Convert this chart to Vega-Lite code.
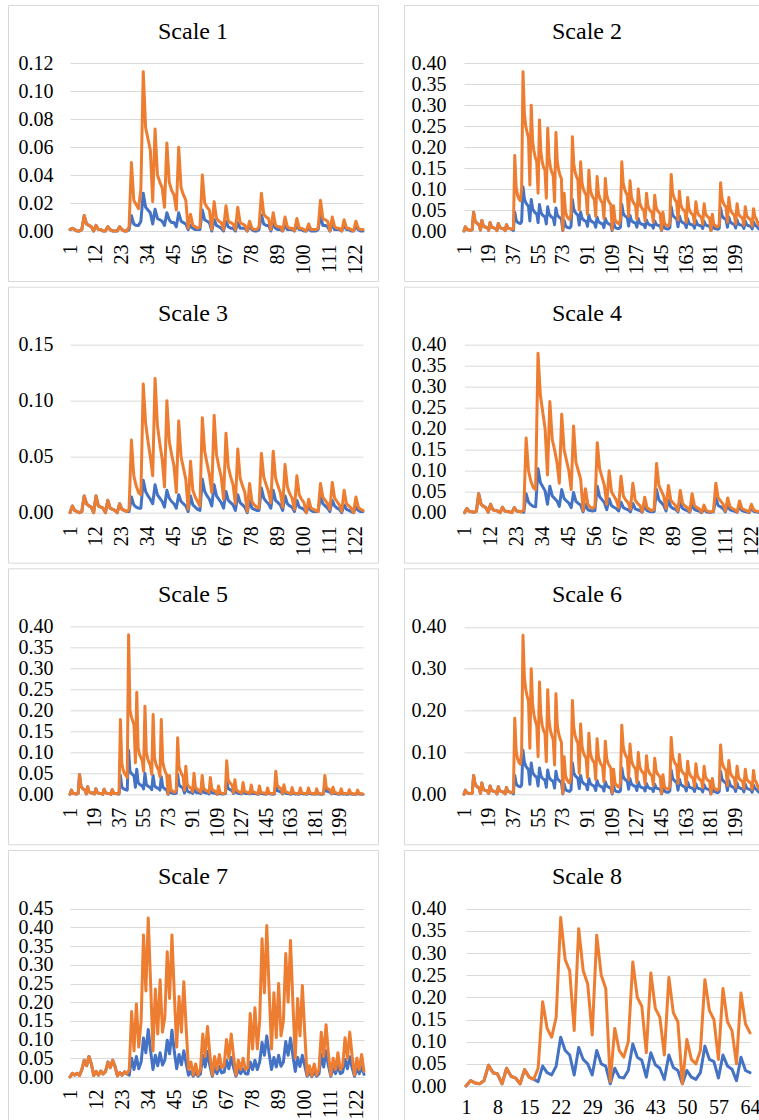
{
"$schema":"https://vega.github.io/schema/vega-lite/v6.json",
"background":"white",
"padding":{"left":7,"top":4,"right":0,"bottom":0},
"config":{
"font":"Liberation Serif",
"style":{"guide-label":{"font":"Liberation Serif","fontSize":20,"fill":"#000000"},"group-title":{"font":"Liberation Serif","fontSize":24,"fontWeight":"normal","fill":"#000000"}},
"view":{"stroke":"#d9d9d9","strokeWidth":1},
"title":{"font":"Liberation Serif","fontSize":24,"fontWeight":"normal","color":"#000000","anchor":"middle","offset":-39,"baseline":"alphabetic"},
"axis":{"labelFont":"Liberation Serif","labelFontSize":20,"labelColor":"#000000","ticks":false,"tickSize":0,"domain":false,"labelOverlap":false,"labelFlush":false,"labelBound":false},
"axisX":{"grid":false,"labelAngle":270,"labelPadding":13},
"axisY":{"grid":true,"gridColor":"#d9d9d9","gridWidth":1,"labelPadding":0},
"line":{"strokeWidth":3,"strokeJoin":"round","strokeCap":"round"}
},
"datasets":{
"s1":[{"x":1,"o":0.001,"b":0.001},{"x":2,"o":0.002,"b":0.002},{"x":3,"o":0.001,"b":0.001},{"x":4,"o":0,"b":0},{"x":5,"o":0,"b":0},{"x":6,"o":0.001,"b":0.001},{"x":7,"o":0.011,"b":0.011},{"x":8,"o":0.005,"b":0.005},{"x":9,"o":0.004,"b":0.004},{"x":10,"o":0.003,"b":0.003},{"x":11,"o":0,"b":0},{"x":12,"o":0.004,"b":0.004},{"x":13,"o":0.001,"b":0.001},{"x":14,"o":0.001,"b":0.001},{"x":15,"o":0,"b":0},{"x":16,"o":0,"b":0},{"x":17,"o":0.003,"b":0.003},{"x":18,"o":0.001,"b":0.001},{"x":19,"o":0,"b":0},{"x":20,"o":0,"b":0},{"x":21,"o":0,"b":0},{"x":22,"o":0.003,"b":0.003},{"x":23,"o":0.001,"b":0.001},{"x":24,"o":0,"b":0},{"x":25,"o":0,"b":0},
{"x":26,"o":0.003,"b":0.001},{"x":27,"o":0.049,"b":0.011},{"x":28,"o":0.022,"b":0.005},{"x":29,"o":0.019,"b":0.004},{"x":30,"o":0.016,"b":0.004},{"x":31,"o":0.03,"b":0.007},{"x":32,"o":0.114,"b":0.027},{"x":33,"o":0.074,"b":0.017},{"x":34,"o":0.066,"b":0.015},{"x":35,"o":0.058,"b":0.013},{"x":36,"o":0.021,"b":0.005},{"x":37,"o":0.073,"b":0.0155},{"x":38,"o":0.04,"b":0.009},{"x":39,"o":0.035,"b":0.008},{"x":40,"o":0.031,"b":0.007},{"x":41,"o":0.017,"b":0.004},{"x":42,"o":0.063,"b":0.013},{"x":43,"o":0.035,"b":0.008},{"x":44,"o":0.029,"b":0.006},{"x":45,"o":0.026,"b":0.006},{"x":46,"o":0.015,"b":0.003},{"x":47,"o":0.06,"b":0.013},{"x":48,"o":0.031,"b":0.007},{"x":49,"o":0.026,"b":0.006},{"x":50,"o":0.022,"b":0.005},
{"x":51,"o":0.002,"b":0.001},{"x":52,"o":0.012,"b":0.004},{"x":53,"o":0.004,"b":0.002},{"x":54,"o":0.003,"b":0.001},{"x":55,"o":0.002,"b":0.001},{"x":56,"o":0.003,"b":0.001},{"x":57,"o":0.04,"b":0.015},{"x":58,"o":0.02,"b":0.008},{"x":59,"o":0.017,"b":0.007},{"x":60,"o":0.015,"b":0.006},{"x":61,"o":0.001,"b":0},{"x":62,"o":0.021,"b":0.008},{"x":63,"o":0.009,"b":0.004},{"x":64,"o":0.007,"b":0.003},{"x":65,"o":0.006,"b":0.002},{"x":66,"o":0.001,"b":0},{"x":67,"o":0.018,"b":0.007},{"x":68,"o":0.007,"b":0.003},{"x":69,"o":0.006,"b":0.002},{"x":70,"o":0.005,"b":0.002},{"x":71,"o":0.001,"b":0},{"x":72,"o":0.017,"b":0.006},{"x":73,"o":0.006,"b":0.002},{"x":74,"o":0.005,"b":0.002},{"x":75,"o":0.004,"b":0.002},
{"x":76,"o":0,"b":0},{"x":77,"o":0.007,"b":0.003},{"x":78,"o":0.002,"b":0.001},{"x":79,"o":0.001,"b":0},{"x":80,"o":0.001,"b":0},{"x":81,"o":0.003,"b":0.001},{"x":82,"o":0.027,"b":0.0115},{"x":83,"o":0.012,"b":0.005},{"x":84,"o":0.01,"b":0.004},{"x":85,"o":0.009,"b":0.004},{"x":86,"o":0.001,"b":0},{"x":87,"o":0.013,"b":0.005},{"x":88,"o":0.004,"b":0.002},{"x":89,"o":0.003,"b":0.001},{"x":90,"o":0.003,"b":0.001},{"x":91,"o":0,"b":0},{"x":92,"o":0.01,"b":0.004},{"x":93,"o":0.003,"b":0.001},{"x":94,"o":0.002,"b":0.001},{"x":95,"o":0.002,"b":0.001},{"x":96,"o":0,"b":0},{"x":97,"o":0.009,"b":0.004},{"x":98,"o":0.002,"b":0.001},{"x":99,"o":0.002,"b":0.001},{"x":100,"o":0.001,"b":0},
{"x":101,"o":0,"b":0},{"x":102,"o":0.005,"b":0.002},{"x":103,"o":0.001,"b":0},{"x":104,"o":0.001,"b":0},{"x":105,"o":0.001,"b":0},{"x":106,"o":0.002,"b":0.001},{"x":107,"o":0.022,"b":0.011},{"x":108,"o":0.009,"b":0.004},{"x":109,"o":0.008,"b":0.004},{"x":110,"o":0.007,"b":0.003},{"x":111,"o":0,"b":0},{"x":112,"o":0.01,"b":0.005},{"x":113,"o":0.003,"b":0.001},{"x":114,"o":0.002,"b":0.001},{"x":115,"o":0.002,"b":0.001},{"x":116,"o":0,"b":0},{"x":117,"o":0.008,"b":0.004},{"x":118,"o":0.002,"b":0.001},{"x":119,"o":0.002,"b":0.001},{"x":120,"o":0.001,"b":0},{"x":121,"o":0,"b":0},{"x":122,"o":0.007,"b":0.003},{"x":123,"o":0.002,"b":0.001},{"x":124,"o":0.001,"b":0},{"x":125,"o":0.001,"b":0}],
"s2":[{"x":1,"o":0,"b":0},{"x":2,"o":0.01,"b":0.01},{"x":3,"o":0.004,"b":0.004},{"x":4,"o":0.003,"b":0.003},{"x":5,"o":0.002,"b":0.002},{"x":6,"o":0.002,"b":0.002},{"x":7,"o":0.003,"b":0.003},{"x":8,"o":0.045,"b":0.045},{"x":9,"o":0.025,"b":0.025},{"x":10,"o":0.02,"b":0.02},{"x":11,"o":0.017,"b":0.017},{"x":12,"o":0.015,"b":0.015},{"x":13,"o":0.002,"b":0.002},{"x":14,"o":0.025,"b":0.025},{"x":15,"o":0.013,"b":0.013},{"x":16,"o":0.01,"b":0.01},{"x":17,"o":0.009,"b":0.009},{"x":18,"o":0.008,"b":0.008},{"x":19,"o":0.002,"b":0.002},{"x":20,"o":0.02,"b":0.02},{"x":21,"o":0.01,"b":0.01},{"x":22,"o":0.008,"b":0.008},{"x":23,"o":0.007,"b":0.007},{"x":24,"o":0.006,"b":0.006},{"x":25,"o":0.001,"b":0.001},{"x":26,"o":0.018,"b":0.018},{"x":27,"o":0.009,"b":0.009},{"x":28,"o":0.007,"b":0.007},{"x":29,"o":0.006,"b":0.006},{"x":30,"o":0.005,"b":0.005},{"x":31,"o":0.001,"b":0.001},{"x":32,"o":0.015,"b":0.015},{"x":33,"o":0.007,"b":0.007},{"x":34,"o":0.006,"b":0.006},{"x":35,"o":0.005,"b":0.005},{"x":36,"o":0.004,"b":0.004},
{"x":37,"o":0.005,"b":0.001},{"x":38,"o":0.18,"b":0.045},{"x":39,"o":0.105,"b":0.026},{"x":40,"o":0.085,"b":0.021},{"x":41,"o":0.077,"b":0.019},{"x":42,"o":0.072,"b":0.018},{"x":43,"o":0.1,"b":0.022},{"x":44,"o":0.38,"b":0.105},{"x":45,"o":0.28,"b":0.077},{"x":46,"o":0.25,"b":0.068},{"x":47,"o":0.235,"b":0.063},{"x":48,"o":0.222,"b":0.059},{"x":49,"o":0.11,"b":0.024},{"x":50,"o":0.3,"b":0.075},{"x":51,"o":0.215,"b":0.053},{"x":52,"o":0.19,"b":0.047},{"x":53,"o":0.175,"b":0.043},{"x":54,"o":0.165,"b":0.041},{"x":55,"o":0.09,"b":0.02},{"x":56,"o":0.265,"b":0.063},{"x":57,"o":0.19,"b":0.045},{"x":58,"o":0.165,"b":0.039},{"x":59,"o":0.152,"b":0.036},{"x":60,"o":0.145,"b":0.034},{"x":61,"o":0.078,"b":0.017},{"x":62,"o":0.245,"b":0.058},{"x":63,"o":0.175,"b":0.041},{"x":64,"o":0.152,"b":0.036},{"x":65,"o":0.14,"b":0.033},{"x":66,"o":0.132,"b":0.031},{"x":67,"o":0.07,"b":0.015},{"x":68,"o":0.235,"b":0.055},{"x":69,"o":0.165,"b":0.038},{"x":70,"o":0.145,"b":0.034},{"x":71,"o":0.133,"b":0.031},{"x":72,"o":0.125,"b":0.029},
{"x":73,"o":0.002,"b":0.001},{"x":74,"o":0.09,"b":0.025},{"x":75,"o":0.045,"b":0.012},{"x":76,"o":0.035,"b":0.009},{"x":77,"o":0.03,"b":0.008},{"x":78,"o":0.027,"b":0.007},{"x":79,"o":0.04,"b":0.011},{"x":80,"o":0.225,"b":0.075},{"x":81,"o":0.16,"b":0.052},{"x":82,"o":0.14,"b":0.045},{"x":83,"o":0.13,"b":0.041},{"x":84,"o":0.122,"b":0.038},{"x":85,"o":0.05,"b":0.014},{"x":86,"o":0.165,"b":0.045},{"x":87,"o":0.115,"b":0.031},{"x":88,"o":0.1,"b":0.027},{"x":89,"o":0.092,"b":0.024},{"x":90,"o":0.086,"b":0.023},{"x":91,"o":0.04,"b":0.011},{"x":92,"o":0.145,"b":0.038},{"x":93,"o":0.1,"b":0.026},{"x":94,"o":0.087,"b":0.023},{"x":95,"o":0.08,"b":0.021},{"x":96,"o":0.075,"b":0.019},{"x":97,"o":0.035,"b":0.009},{"x":98,"o":0.13,"b":0.033},{"x":99,"o":0.09,"b":0.023},{"x":100,"o":0.078,"b":0.02},{"x":101,"o":0.071,"b":0.018},{"x":102,"o":0.067,"b":0.017},{"x":103,"o":0.03,"b":0.008},{"x":104,"o":0.125,"b":0.03},{"x":105,"o":0.086,"b":0.021},{"x":106,"o":0.074,"b":0.018},{"x":107,"o":0.068,"b":0.016},{"x":108,"o":0.063,"b":0.015},
{"x":109,"o":0.003,"b":0.001},{"x":110,"o":0.06,"b":0.02},{"x":111,"o":0.028,"b":0.009},{"x":112,"o":0.022,"b":0.007},{"x":113,"o":0.019,"b":0.006},{"x":114,"o":0.017,"b":0.006},{"x":115,"o":0.028,"b":0.009},{"x":116,"o":0.165,"b":0.063},{"x":117,"o":0.115,"b":0.043},{"x":118,"o":0.1,"b":0.037},{"x":119,"o":0.092,"b":0.034},{"x":120,"o":0.086,"b":0.032},{"x":121,"o":0.035,"b":0.012},{"x":122,"o":0.12,"b":0.037},{"x":123,"o":0.082,"b":0.025},{"x":124,"o":0.071,"b":0.022},{"x":125,"o":0.065,"b":0.02},{"x":126,"o":0.061,"b":0.019},{"x":127,"o":0.028,"b":0.009},{"x":128,"o":0.1,"b":0.03},{"x":129,"o":0.068,"b":0.02},{"x":130,"o":0.058,"b":0.017},{"x":131,"o":0.053,"b":0.016},{"x":132,"o":0.05,"b":0.015},{"x":133,"o":0.024,"b":0.008},{"x":134,"o":0.09,"b":0.026},{"x":135,"o":0.061,"b":0.018},{"x":136,"o":0.052,"b":0.015},{"x":137,"o":0.047,"b":0.014},{"x":138,"o":0.044,"b":0.013},{"x":139,"o":0.021,"b":0.007},{"x":140,"o":0.085,"b":0.024},{"x":141,"o":0.057,"b":0.016},{"x":142,"o":0.049,"b":0.014},{"x":143,"o":0.045,"b":0.013},{"x":144,"o":0.041,"b":0.012},
{"x":145,"o":0.002,"b":0.001},{"x":146,"o":0.045,"b":0.017},{"x":147,"o":0.02,"b":0.008},{"x":148,"o":0.015,"b":0.006},{"x":149,"o":0.013,"b":0.005},{"x":150,"o":0.012,"b":0.005},{"x":151,"o":0.02,"b":0.008},{"x":152,"o":0.135,"b":0.058},{"x":153,"o":0.092,"b":0.039},{"x":154,"o":0.08,"b":0.034},{"x":155,"o":0.073,"b":0.031},{"x":156,"o":0.069,"b":0.029},{"x":157,"o":0.026,"b":0.01},{"x":158,"o":0.095,"b":0.036},{"x":159,"o":0.063,"b":0.024},{"x":160,"o":0.054,"b":0.021},{"x":161,"o":0.05,"b":0.019},{"x":162,"o":0.047,"b":0.018},{"x":163,"o":0.021,"b":0.008},{"x":164,"o":0.08,"b":0.029},{"x":165,"o":0.053,"b":0.019},{"x":166,"o":0.045,"b":0.016},{"x":167,"o":0.041,"b":0.015},{"x":168,"o":0.038,"b":0.014},{"x":169,"o":0.018,"b":0.007},{"x":170,"o":0.07,"b":0.025},{"x":171,"o":0.046,"b":0.016},{"x":172,"o":0.039,"b":0.014},{"x":173,"o":0.035,"b":0.013},{"x":174,"o":0.033,"b":0.012},{"x":175,"o":0.016,"b":0.006},{"x":176,"o":0.065,"b":0.023},{"x":177,"o":0.042,"b":0.015},{"x":178,"o":0.036,"b":0.013},{"x":179,"o":0.033,"b":0.012},{"x":180,"o":0.031,"b":0.011},
{"x":181,"o":0.001,"b":0.001},{"x":182,"o":0.04,"b":0.017},{"x":183,"o":0.017,"b":0.007},{"x":184,"o":0.013,"b":0.006},{"x":185,"o":0.011,"b":0.005},{"x":186,"o":0.01,"b":0.004},{"x":187,"o":0.016,"b":0.007},{"x":188,"o":0.115,"b":0.055},{"x":189,"o":0.078,"b":0.037},{"x":190,"o":0.067,"b":0.032},{"x":191,"o":0.061,"b":0.029},{"x":192,"o":0.057,"b":0.027},{"x":193,"o":0.021,"b":0.009},{"x":194,"o":0.08,"b":0.033},{"x":195,"o":0.053,"b":0.022},{"x":196,"o":0.045,"b":0.019},{"x":197,"o":0.041,"b":0.017},{"x":198,"o":0.038,"b":0.016},{"x":199,"o":0.017,"b":0.007},{"x":200,"o":0.065,"b":0.027},{"x":201,"o":0.042,"b":0.017},{"x":202,"o":0.036,"b":0.015},{"x":203,"o":0.033,"b":0.014},{"x":204,"o":0.031,"b":0.013},{"x":205,"o":0.014,"b":0.006},{"x":206,"o":0.058,"b":0.024},{"x":207,"o":0.037,"b":0.015},{"x":208,"o":0.032,"b":0.013},{"x":209,"o":0.029,"b":0.012},{"x":210,"o":0.027,"b":0.011},{"x":211,"o":0.012,"b":0.005},{"x":212,"o":0.053,"b":0.022},{"x":213,"o":0.034,"b":0.014},{"x":214,"o":0.029,"b":0.012},{"x":215,"o":0.02,"b":0.008},{"x":216,"o":0.013,"b":0.005}],
"s3":[{"x":1,"o":0,"b":0},{"x":2,"o":0.006,"b":0.006},{"x":3,"o":0.002,"b":0.002},{"x":4,"o":0.001,"b":0.001},{"x":5,"o":0,"b":0},{"x":6,"o":0.001,"b":0.001},{"x":7,"o":0.015,"b":0.015},{"x":8,"o":0.008,"b":0.008},{"x":9,"o":0.006,"b":0.006},{"x":10,"o":0.005,"b":0.005},{"x":11,"o":0,"b":0},{"x":12,"o":0.015,"b":0.015},{"x":13,"o":0.006,"b":0.006},{"x":14,"o":0.005,"b":0.005},{"x":15,"o":0.004,"b":0.004},{"x":16,"o":0,"b":0},{"x":17,"o":0.011,"b":0.011},{"x":18,"o":0.004,"b":0.004},{"x":19,"o":0.003,"b":0.003},{"x":20,"o":0.002,"b":0.002},{"x":21,"o":0,"b":0},{"x":22,"o":0.008,"b":0.008},{"x":23,"o":0.003,"b":0.003},{"x":24,"o":0.002,"b":0.002},{"x":25,"o":0.001,"b":0.001},
{"x":26,"o":0.003,"b":0.001},{"x":27,"o":0.065,"b":0.014},{"x":28,"o":0.033,"b":0.007},{"x":29,"o":0.024,"b":0.005},{"x":30,"o":0.018,"b":0.004},{"x":31,"o":0.016,"b":0.004},{"x":32,"o":0.115,"b":0.029},{"x":33,"o":0.08,"b":0.019},{"x":34,"o":0.064,"b":0.015},{"x":35,"o":0.05,"b":0.012},{"x":36,"o":0.033,"b":0.008},{"x":37,"o":0.12,"b":0.025},{"x":38,"o":0.078,"b":0.016},{"x":39,"o":0.062,"b":0.013},{"x":40,"o":0.048,"b":0.01},{"x":41,"o":0.023,"b":0.005},{"x":42,"o":0.1,"b":0.02},{"x":43,"o":0.064,"b":0.013},{"x":44,"o":0.052,"b":0.01},{"x":45,"o":0.042,"b":0.008},{"x":46,"o":0.018,"b":0.004},{"x":47,"o":0.082,"b":0.016},{"x":48,"o":0.05,"b":0.01},{"x":49,"o":0.04,"b":0.008},{"x":50,"o":0.03,"b":0.006},
{"x":51,"o":0.003,"b":0.001},{"x":52,"o":0.046,"b":0.015},{"x":53,"o":0.02,"b":0.007},{"x":54,"o":0.014,"b":0.005},{"x":55,"o":0.01,"b":0.003},{"x":56,"o":0.006,"b":0.002},{"x":57,"o":0.085,"b":0.03},{"x":58,"o":0.055,"b":0.019},{"x":59,"o":0.044,"b":0.015},{"x":60,"o":0.034,"b":0.012},{"x":61,"o":0.018,"b":0.006},{"x":62,"o":0.087,"b":0.025},{"x":63,"o":0.052,"b":0.015},{"x":64,"o":0.041,"b":0.012},{"x":65,"o":0.032,"b":0.009},{"x":66,"o":0.012,"b":0.004},{"x":67,"o":0.071,"b":0.019},{"x":68,"o":0.041,"b":0.011},{"x":69,"o":0.032,"b":0.009},{"x":70,"o":0.025,"b":0.007},{"x":71,"o":0.008,"b":0.002},{"x":72,"o":0.057,"b":0.016},{"x":73,"o":0.031,"b":0.009},{"x":74,"o":0.024,"b":0.007},{"x":75,"o":0.018,"b":0.005},
{"x":76,"o":0.001,"b":0},{"x":77,"o":0.026,"b":0.011},{"x":78,"o":0.01,"b":0.004},{"x":79,"o":0.007,"b":0.003},{"x":80,"o":0.005,"b":0.002},{"x":81,"o":0.004,"b":0.002},{"x":82,"o":0.053,"b":0.022},{"x":83,"o":0.032,"b":0.013},{"x":84,"o":0.025,"b":0.01},{"x":85,"o":0.019,"b":0.008},{"x":86,"o":0.009,"b":0.004},{"x":87,"o":0.055,"b":0.02},{"x":88,"o":0.031,"b":0.011},{"x":89,"o":0.024,"b":0.009},{"x":90,"o":0.018,"b":0.007},{"x":91,"o":0.005,"b":0.002},{"x":92,"o":0.043,"b":0.015},{"x":93,"o":0.023,"b":0.008},{"x":94,"o":0.017,"b":0.006},{"x":95,"o":0.013,"b":0.005},{"x":96,"o":0.003,"b":0.001},{"x":97,"o":0.033,"b":0.011},{"x":98,"o":0.016,"b":0.005},{"x":99,"o":0.012,"b":0.004},{"x":100,"o":0.009,"b":0.003},
{"x":101,"o":0,"b":0},{"x":102,"o":0.012,"b":0.006},{"x":103,"o":0.004,"b":0.002},{"x":104,"o":0.003,"b":0.001},{"x":105,"o":0.002,"b":0.001},{"x":106,"o":0.001,"b":0.001},{"x":107,"o":0.026,"b":0.015},{"x":108,"o":0.014,"b":0.008},{"x":109,"o":0.011,"b":0.006},{"x":110,"o":0.008,"b":0.004},{"x":111,"o":0.003,"b":0.001},{"x":112,"o":0.027,"b":0.011},{"x":113,"o":0.013,"b":0.006},{"x":114,"o":0.01,"b":0.004},{"x":115,"o":0.007,"b":0.003},{"x":116,"o":0.001,"b":0},{"x":117,"o":0.02,"b":0.007},{"x":118,"o":0.008,"b":0.003},{"x":119,"o":0.006,"b":0.002},{"x":120,"o":0.004,"b":0.001},{"x":121,"o":0,"b":0},{"x":122,"o":0.014,"b":0.005},{"x":123,"o":0.005,"b":0.002},{"x":124,"o":0.003,"b":0.001},{"x":125,"o":0.002,"b":0.001}],
"s4":[{"x":1,"o":0,"b":0},{"x":2,"o":0.01,"b":0.01},{"x":3,"o":0.003,"b":0.003},{"x":4,"o":0.002,"b":0.002},{"x":5,"o":0.001,"b":0.001},{"x":6,"o":0.003,"b":0.003},{"x":7,"o":0.045,"b":0.045},{"x":8,"o":0.02,"b":0.02},{"x":9,"o":0.015,"b":0.015},{"x":10,"o":0.012,"b":0.012},{"x":11,"o":0.001,"b":0.001},{"x":12,"o":0.02,"b":0.02},{"x":13,"o":0.007,"b":0.007},{"x":14,"o":0.005,"b":0.005},{"x":15,"o":0.004,"b":0.004},{"x":16,"o":0,"b":0},{"x":17,"o":0.013,"b":0.013},{"x":18,"o":0.004,"b":0.004},{"x":19,"o":0.003,"b":0.003},{"x":20,"o":0.002,"b":0.002},{"x":21,"o":0,"b":0},{"x":22,"o":0.012,"b":0.012},{"x":23,"o":0.004,"b":0.004},{"x":24,"o":0.003,"b":0.003},{"x":25,"o":0.002,"b":0.002},
{"x":26,"o":0.006,"b":0.001},{"x":27,"o":0.178,"b":0.045},{"x":28,"o":0.1,"b":0.025},{"x":29,"o":0.075,"b":0.019},{"x":30,"o":0.06,"b":0.015},{"x":31,"o":0.055,"b":0.014},{"x":32,"o":0.38,"b":0.105},{"x":33,"o":0.28,"b":0.072},{"x":34,"o":0.24,"b":0.062},{"x":35,"o":0.2,"b":0.052},{"x":36,"o":0.09,"b":0.02},{"x":37,"o":0.265,"b":0.063},{"x":38,"o":0.175,"b":0.04},{"x":39,"o":0.15,"b":0.034},{"x":40,"o":0.12,"b":0.028},{"x":41,"o":0.07,"b":0.015},{"x":42,"o":0.235,"b":0.055},{"x":43,"o":0.15,"b":0.034},{"x":44,"o":0.125,"b":0.028},{"x":45,"o":0.1,"b":0.023},{"x":46,"o":0.055,"b":0.012},{"x":47,"o":0.207,"b":0.048},{"x":48,"o":0.12,"b":0.027},{"x":49,"o":0.1,"b":0.022},{"x":50,"o":0.08,"b":0.018},
{"x":51,"o":0.005,"b":0.002},{"x":52,"o":0.057,"b":0.02},{"x":53,"o":0.02,"b":0.007},{"x":54,"o":0.013,"b":0.005},{"x":55,"o":0.01,"b":0.004},{"x":56,"o":0.015,"b":0.005},{"x":57,"o":0.167,"b":0.063},{"x":58,"o":0.105,"b":0.038},{"x":59,"o":0.085,"b":0.031},{"x":60,"o":0.065,"b":0.024},{"x":61,"o":0.02,"b":0.007},{"x":62,"o":0.1,"b":0.033},{"x":63,"o":0.05,"b":0.017},{"x":64,"o":0.04,"b":0.013},{"x":65,"o":0.03,"b":0.01},{"x":66,"o":0.012,"b":0.004},{"x":67,"o":0.087,"b":0.025},{"x":68,"o":0.04,"b":0.012},{"x":69,"o":0.03,"b":0.009},{"x":70,"o":0.024,"b":0.007},{"x":71,"o":0.008,"b":0.002},{"x":72,"o":0.07,"b":0.022},{"x":73,"o":0.03,"b":0.009},{"x":74,"o":0.022,"b":0.007},{"x":75,"o":0.017,"b":0.005},
{"x":76,"o":0.002,"b":0.001},{"x":77,"o":0.037,"b":0.017},{"x":78,"o":0.012,"b":0.005},{"x":79,"o":0.008,"b":0.003},{"x":80,"o":0.005,"b":0.002},{"x":81,"o":0.008,"b":0.003},{"x":82,"o":0.117,"b":0.055},{"x":83,"o":0.065,"b":0.03},{"x":84,"o":0.052,"b":0.024},{"x":85,"o":0.04,"b":0.018},{"x":86,"o":0.01,"b":0.004},{"x":87,"o":0.065,"b":0.03},{"x":88,"o":0.03,"b":0.014},{"x":89,"o":0.023,"b":0.01},{"x":90,"o":0.017,"b":0.008},{"x":91,"o":0.005,"b":0.002},{"x":92,"o":0.053,"b":0.024},{"x":93,"o":0.022,"b":0.01},{"x":94,"o":0.016,"b":0.007},{"x":95,"o":0.012,"b":0.005},{"x":96,"o":0.003,"b":0.001},{"x":97,"o":0.045,"b":0.02},{"x":98,"o":0.017,"b":0.008},{"x":99,"o":0.012,"b":0.005},{"x":100,"o":0.009,"b":0.004},
{"x":101,"o":0.001,"b":0},{"x":102,"o":0.018,"b":0.009},{"x":103,"o":0.005,"b":0.002},{"x":104,"o":0.003,"b":0.001},{"x":105,"o":0.002,"b":0.001},{"x":106,"o":0.004,"b":0.002},{"x":107,"o":0.07,"b":0.035},{"x":108,"o":0.035,"b":0.017},{"x":109,"o":0.028,"b":0.014},{"x":110,"o":0.021,"b":0.01},{"x":111,"o":0.004,"b":0.002},{"x":112,"o":0.035,"b":0.017},{"x":113,"o":0.014,"b":0.007},{"x":114,"o":0.01,"b":0.005},{"x":115,"o":0.007,"b":0.003},{"x":116,"o":0.002,"b":0.001},{"x":117,"o":0.028,"b":0.014},{"x":118,"o":0.01,"b":0.005},{"x":119,"o":0.007,"b":0.003},{"x":120,"o":0.005,"b":0.002},{"x":121,"o":0.001,"b":0},{"x":122,"o":0.02,"b":0.01},{"x":123,"o":0.006,"b":0.003},{"x":124,"o":0.004,"b":0.002},{"x":125,"o":0.003,"b":0.001}],
"s5":[{"x":1,"o":0,"b":0},{"x":2,"o":0.01,"b":0.01},{"x":3,"o":0.003,"b":0.003},{"x":4,"o":0.002,"b":0.002},{"x":5,"o":0.001,"b":0.001},{"x":6,"o":0.001,"b":0.001},{"x":7,"o":0.002,"b":0.002},{"x":8,"o":0.047,"b":0.047},{"x":9,"o":0.02,"b":0.02},{"x":10,"o":0.015,"b":0.015},{"x":11,"o":0.012,"b":0.012},{"x":12,"o":0.01,"b":0.01},{"x":13,"o":0.001,"b":0.001},{"x":14,"o":0.018,"b":0.018},{"x":15,"o":0.006,"b":0.006},{"x":16,"o":0.004,"b":0.004},{"x":17,"o":0.003,"b":0.003},{"x":18,"o":0.003,"b":0.003},{"x":19,"o":0.001,"b":0.001},{"x":20,"o":0.013,"b":0.013},{"x":21,"o":0.004,"b":0.004},{"x":22,"o":0.003,"b":0.003},{"x":23,"o":0.002,"b":0.002},{"x":24,"o":0.002,"b":0.002},{"x":25,"o":0,"b":0},{"x":26,"o":0.012,"b":0.012},{"x":27,"o":0.004,"b":0.004},{"x":28,"o":0.003,"b":0.003},{"x":29,"o":0.002,"b":0.002},{"x":30,"o":0.002,"b":0.002},{"x":31,"o":0,"b":0},{"x":32,"o":0.011,"b":0.011},{"x":33,"o":0.003,"b":0.003},{"x":34,"o":0.002,"b":0.002},{"x":35,"o":0.002,"b":0.002},{"x":36,"o":0.001,"b":0.001},
{"x":37,"o":0.003,"b":0.001},{"x":38,"o":0.178,"b":0.045},{"x":39,"o":0.075,"b":0.018},{"x":40,"o":0.058,"b":0.014},{"x":41,"o":0.05,"b":0.012},{"x":42,"o":0.045,"b":0.011},{"x":43,"o":0.04,"b":0.01},{"x":44,"o":0.38,"b":0.105},{"x":45,"o":0.2,"b":0.055},{"x":46,"o":0.185,"b":0.05},{"x":47,"o":0.175,"b":0.047},{"x":48,"o":0.165,"b":0.044},{"x":49,"o":0.075,"b":0.017},{"x":50,"o":0.243,"b":0.06},{"x":51,"o":0.11,"b":0.028},{"x":52,"o":0.095,"b":0.024},{"x":53,"o":0.088,"b":0.022},{"x":54,"o":0.08,"b":0.02},{"x":55,"o":0.055,"b":0.013},{"x":56,"o":0.21,"b":0.05},{"x":57,"o":0.1,"b":0.024},{"x":58,"o":0.085,"b":0.02},{"x":59,"o":0.076,"b":0.018},{"x":60,"o":0.068,"b":0.016},{"x":61,"o":0.048,"b":0.011},{"x":62,"o":0.19,"b":0.045},{"x":63,"o":0.088,"b":0.021},{"x":64,"o":0.073,"b":0.017},{"x":65,"o":0.064,"b":0.015},{"x":66,"o":0.058,"b":0.014},{"x":67,"o":0.042,"b":0.01},{"x":68,"o":0.178,"b":0.042},{"x":69,"o":0.078,"b":0.018},{"x":70,"o":0.063,"b":0.015},{"x":71,"o":0.053,"b":0.012},{"x":72,"o":0.046,"b":0.011},
{"x":73,"o":0.001,"b":0},{"x":74,"o":0.045,"b":0.015},{"x":75,"o":0.012,"b":0.004},{"x":76,"o":0.008,"b":0.003},{"x":77,"o":0.006,"b":0.002},{"x":78,"o":0.005,"b":0.002},{"x":79,"o":0.01,"b":0.003},{"x":80,"o":0.135,"b":0.048},{"x":81,"o":0.065,"b":0.023},{"x":82,"o":0.055,"b":0.019},{"x":83,"o":0.048,"b":0.017},{"x":84,"o":0.042,"b":0.015},{"x":85,"o":0.01,"b":0.003},{"x":86,"o":0.067,"b":0.023},{"x":87,"o":0.025,"b":0.008},{"x":88,"o":0.019,"b":0.006},{"x":89,"o":0.016,"b":0.005},{"x":90,"o":0.014,"b":0.005},{"x":91,"o":0.006,"b":0.002},{"x":92,"o":0.05,"b":0.017},{"x":93,"o":0.017,"b":0.006},{"x":94,"o":0.013,"b":0.004},{"x":95,"o":0.011,"b":0.004},{"x":96,"o":0.009,"b":0.003},{"x":97,"o":0.005,"b":0.002},{"x":98,"o":0.045,"b":0.015},{"x":99,"o":0.015,"b":0.005},{"x":100,"o":0.011,"b":0.004},{"x":101,"o":0.009,"b":0.003},{"x":102,"o":0.008,"b":0.003},{"x":103,"o":0.004,"b":0.001},{"x":104,"o":0.04,"b":0.013},{"x":105,"o":0.013,"b":0.004},{"x":106,"o":0.01,"b":0.003},{"x":107,"o":0.008,"b":0.003},{"x":108,"o":0.007,"b":0.002},
{"x":109,"o":0,"b":0},{"x":110,"o":0.02,"b":0.008},{"x":111,"o":0.005,"b":0.002},{"x":112,"o":0.003,"b":0.001},{"x":113,"o":0.002,"b":0.001},{"x":114,"o":0.002,"b":0.001},{"x":115,"o":0.005,"b":0.002},{"x":116,"o":0.08,"b":0.032},{"x":117,"o":0.035,"b":0.014},{"x":118,"o":0.029,"b":0.012},{"x":119,"o":0.025,"b":0.01},{"x":120,"o":0.022,"b":0.009},{"x":121,"o":0.004,"b":0.002},{"x":122,"o":0.035,"b":0.014},{"x":123,"o":0.011,"b":0.004},{"x":124,"o":0.008,"b":0.003},{"x":125,"o":0.006,"b":0.002},{"x":126,"o":0.005,"b":0.002},{"x":127,"o":0.002,"b":0.001},{"x":128,"o":0.028,"b":0.011},{"x":129,"o":0.008,"b":0.003},{"x":130,"o":0.006,"b":0.002},{"x":131,"o":0.005,"b":0.002},{"x":132,"o":0.004,"b":0.002},{"x":133,"o":0.002,"b":0.001},{"x":134,"o":0.022,"b":0.009},{"x":135,"o":0.006,"b":0.002},{"x":136,"o":0.005,"b":0.002},{"x":137,"o":0.004,"b":0.002},{"x":138,"o":0.003,"b":0.001},{"x":139,"o":0.001,"b":0},{"x":140,"o":0.02,"b":0.008},{"x":141,"o":0.005,"b":0.002},{"x":142,"o":0.004,"b":0.002},{"x":143,"o":0.003,"b":0.001},{"x":144,"o":0.003,"b":0.001},
{"x":145,"o":0,"b":0},{"x":146,"o":0.015,"b":0.006},{"x":147,"o":0.004,"b":0.002},{"x":148,"o":0.002,"b":0.001},{"x":149,"o":0.002,"b":0.001},{"x":150,"o":0.001,"b":0},{"x":151,"o":0.003,"b":0.001},{"x":152,"o":0.055,"b":0.024},{"x":153,"o":0.022,"b":0.009},{"x":154,"o":0.018,"b":0.008},{"x":155,"o":0.015,"b":0.006},{"x":156,"o":0.013,"b":0.006},{"x":157,"o":0.002,"b":0.001},{"x":158,"o":0.023,"b":0.01},{"x":159,"o":0.007,"b":0.003},{"x":160,"o":0.005,"b":0.002},{"x":161,"o":0.004,"b":0.002},{"x":162,"o":0.003,"b":0.001},{"x":163,"o":0.001,"b":0},{"x":164,"o":0.016,"b":0.007},{"x":165,"o":0.004,"b":0.002},{"x":166,"o":0.003,"b":0.001},{"x":167,"o":0.002,"b":0.001},{"x":168,"o":0.002,"b":0.001},{"x":169,"o":0.001,"b":0},{"x":170,"o":0.015,"b":0.006},{"x":171,"o":0.004,"b":0.002},{"x":172,"o":0.003,"b":0.001},{"x":173,"o":0.002,"b":0.001},{"x":174,"o":0.002,"b":0.001},{"x":175,"o":0.001,"b":0},{"x":176,"o":0.015,"b":0.006},{"x":177,"o":0.004,"b":0.002},{"x":178,"o":0.003,"b":0.001},{"x":179,"o":0.002,"b":0.001},{"x":180,"o":0.002,"b":0.001},
{"x":181,"o":0,"b":0},{"x":182,"o":0.013,"b":0.006},{"x":183,"o":0.003,"b":0.001},{"x":184,"o":0.002,"b":0.001},{"x":185,"o":0.001,"b":0},{"x":186,"o":0.001,"b":0},{"x":187,"o":0.002,"b":0.001},{"x":188,"o":0.045,"b":0.022},{"x":189,"o":0.017,"b":0.008},{"x":190,"o":0.014,"b":0.007},{"x":191,"o":0.012,"b":0.006},{"x":192,"o":0.01,"b":0.005},{"x":193,"o":0.002,"b":0.001},{"x":194,"o":0.017,"b":0.008},{"x":195,"o":0.005,"b":0.002},{"x":196,"o":0.004,"b":0.002},{"x":197,"o":0.003,"b":0.001},{"x":198,"o":0.002,"b":0.001},{"x":199,"o":0.001,"b":0},{"x":200,"o":0.013,"b":0.006},{"x":201,"o":0.003,"b":0.001},{"x":202,"o":0.002,"b":0.001},{"x":203,"o":0.002,"b":0.001},{"x":204,"o":0.001,"b":0},{"x":205,"o":0.001,"b":0},{"x":206,"o":0.011,"b":0.005},{"x":207,"o":0.003,"b":0.001},{"x":208,"o":0.002,"b":0.001},{"x":209,"o":0.001,"b":0},{"x":210,"o":0.001,"b":0},{"x":211,"o":0,"b":0},{"x":212,"o":0.01,"b":0.005},{"x":213,"o":0.003,"b":0.001},{"x":214,"o":0.002,"b":0.001},{"x":215,"o":0.001,"b":0},{"x":216,"o":0.001,"b":0}],
"s6":[{"x":1,"o":0,"b":0},{"x":2,"o":0.01,"b":0.01},{"x":3,"o":0.004,"b":0.004},{"x":4,"o":0.003,"b":0.003},{"x":5,"o":0.002,"b":0.002},{"x":6,"o":0.002,"b":0.002},{"x":7,"o":0.003,"b":0.003},{"x":8,"o":0.045,"b":0.045},{"x":9,"o":0.026,"b":0.026},{"x":10,"o":0.02,"b":0.02},{"x":11,"o":0.017,"b":0.017},{"x":12,"o":0.015,"b":0.015},{"x":13,"o":0.002,"b":0.002},{"x":14,"o":0.027,"b":0.027},{"x":15,"o":0.013,"b":0.013},{"x":16,"o":0.01,"b":0.01},{"x":17,"o":0.009,"b":0.009},{"x":18,"o":0.008,"b":0.008},{"x":19,"o":0.002,"b":0.002},{"x":20,"o":0.02,"b":0.02},{"x":21,"o":0.01,"b":0.01},{"x":22,"o":0.008,"b":0.008},{"x":23,"o":0.007,"b":0.007},{"x":24,"o":0.006,"b":0.006},{"x":25,"o":0.001,"b":0.001},{"x":26,"o":0.018,"b":0.018},{"x":27,"o":0.009,"b":0.009},{"x":28,"o":0.007,"b":0.007},{"x":29,"o":0.006,"b":0.006},{"x":30,"o":0.005,"b":0.005},{"x":31,"o":0.001,"b":0.001},{"x":32,"o":0.016,"b":0.016},{"x":33,"o":0.007,"b":0.007},{"x":34,"o":0.006,"b":0.006},{"x":35,"o":0.005,"b":0.005},{"x":36,"o":0.004,"b":0.004},
{"x":37,"o":0.005,"b":0.001},{"x":38,"o":0.182,"b":0.045},{"x":39,"o":0.105,"b":0.026},{"x":40,"o":0.085,"b":0.021},{"x":41,"o":0.077,"b":0.019},{"x":42,"o":0.072,"b":0.018},{"x":43,"o":0.1,"b":0.022},{"x":44,"o":0.38,"b":0.105},{"x":45,"o":0.28,"b":0.077},{"x":46,"o":0.25,"b":0.068},{"x":47,"o":0.235,"b":0.063},{"x":48,"o":0.222,"b":0.059},{"x":49,"o":0.11,"b":0.024},{"x":50,"o":0.3,"b":0.075},{"x":51,"o":0.215,"b":0.053},{"x":52,"o":0.19,"b":0.047},{"x":53,"o":0.175,"b":0.043},{"x":54,"o":0.165,"b":0.041},{"x":55,"o":0.09,"b":0.02},{"x":56,"o":0.268,"b":0.063},{"x":57,"o":0.19,"b":0.045},{"x":58,"o":0.165,"b":0.039},{"x":59,"o":0.152,"b":0.036},{"x":60,"o":0.145,"b":0.034},{"x":61,"o":0.078,"b":0.017},{"x":62,"o":0.25,"b":0.058},{"x":63,"o":0.175,"b":0.041},{"x":64,"o":0.152,"b":0.036},{"x":65,"o":0.14,"b":0.033},{"x":66,"o":0.132,"b":0.031},{"x":67,"o":0.07,"b":0.015},{"x":68,"o":0.24,"b":0.055},{"x":69,"o":0.165,"b":0.038},{"x":70,"o":0.145,"b":0.034},{"x":71,"o":0.133,"b":0.031},{"x":72,"o":0.125,"b":0.029},
{"x":73,"o":0.002,"b":0.001},{"x":74,"o":0.09,"b":0.025},{"x":75,"o":0.045,"b":0.012},{"x":76,"o":0.035,"b":0.009},{"x":77,"o":0.03,"b":0.008},{"x":78,"o":0.027,"b":0.007},{"x":79,"o":0.04,"b":0.011},{"x":80,"o":0.224,"b":0.075},{"x":81,"o":0.16,"b":0.052},{"x":82,"o":0.14,"b":0.045},{"x":83,"o":0.13,"b":0.041},{"x":84,"o":0.122,"b":0.038},{"x":85,"o":0.05,"b":0.014},{"x":86,"o":0.168,"b":0.045},{"x":87,"o":0.115,"b":0.031},{"x":88,"o":0.1,"b":0.027},{"x":89,"o":0.092,"b":0.024},{"x":90,"o":0.086,"b":0.023},{"x":91,"o":0.04,"b":0.011},{"x":92,"o":0.146,"b":0.038},{"x":93,"o":0.1,"b":0.026},{"x":94,"o":0.087,"b":0.023},{"x":95,"o":0.08,"b":0.021},{"x":96,"o":0.075,"b":0.019},{"x":97,"o":0.035,"b":0.009},{"x":98,"o":0.133,"b":0.033},{"x":99,"o":0.09,"b":0.023},{"x":100,"o":0.078,"b":0.02},{"x":101,"o":0.071,"b":0.018},{"x":102,"o":0.067,"b":0.017},{"x":103,"o":0.03,"b":0.008},{"x":104,"o":0.127,"b":0.03},{"x":105,"o":0.086,"b":0.021},{"x":106,"o":0.074,"b":0.018},{"x":107,"o":0.068,"b":0.016},{"x":108,"o":0.063,"b":0.015},
{"x":109,"o":0.003,"b":0.001},{"x":110,"o":0.06,"b":0.02},{"x":111,"o":0.028,"b":0.009},{"x":112,"o":0.022,"b":0.007},{"x":113,"o":0.019,"b":0.006},{"x":114,"o":0.017,"b":0.006},{"x":115,"o":0.028,"b":0.009},{"x":116,"o":0.165,"b":0.063},{"x":117,"o":0.115,"b":0.043},{"x":118,"o":0.1,"b":0.037},{"x":119,"o":0.092,"b":0.034},{"x":120,"o":0.086,"b":0.032},{"x":121,"o":0.035,"b":0.012},{"x":122,"o":0.12,"b":0.037},{"x":123,"o":0.082,"b":0.025},{"x":124,"o":0.071,"b":0.022},{"x":125,"o":0.065,"b":0.02},{"x":126,"o":0.061,"b":0.019},{"x":127,"o":0.028,"b":0.009},{"x":128,"o":0.1,"b":0.03},{"x":129,"o":0.068,"b":0.02},{"x":130,"o":0.058,"b":0.017},{"x":131,"o":0.053,"b":0.016},{"x":132,"o":0.05,"b":0.015},{"x":133,"o":0.024,"b":0.008},{"x":134,"o":0.092,"b":0.026},{"x":135,"o":0.061,"b":0.018},{"x":136,"o":0.052,"b":0.015},{"x":137,"o":0.047,"b":0.014},{"x":138,"o":0.044,"b":0.013},{"x":139,"o":0.021,"b":0.007},{"x":140,"o":0.086,"b":0.024},{"x":141,"o":0.057,"b":0.016},{"x":142,"o":0.049,"b":0.014},{"x":143,"o":0.045,"b":0.013},{"x":144,"o":0.041,"b":0.012},
{"x":145,"o":0.002,"b":0.001},{"x":146,"o":0.047,"b":0.017},{"x":147,"o":0.02,"b":0.008},{"x":148,"o":0.015,"b":0.006},{"x":149,"o":0.013,"b":0.005},{"x":150,"o":0.012,"b":0.005},{"x":151,"o":0.02,"b":0.008},{"x":152,"o":0.136,"b":0.058},{"x":153,"o":0.092,"b":0.039},{"x":154,"o":0.08,"b":0.034},{"x":155,"o":0.073,"b":0.031},{"x":156,"o":0.069,"b":0.029},{"x":157,"o":0.026,"b":0.01},{"x":158,"o":0.095,"b":0.036},{"x":159,"o":0.063,"b":0.024},{"x":160,"o":0.054,"b":0.021},{"x":161,"o":0.05,"b":0.019},{"x":162,"o":0.047,"b":0.018},{"x":163,"o":0.021,"b":0.008},{"x":164,"o":0.079,"b":0.029},{"x":165,"o":0.053,"b":0.019},{"x":166,"o":0.045,"b":0.016},{"x":167,"o":0.041,"b":0.015},{"x":168,"o":0.038,"b":0.014},{"x":169,"o":0.018,"b":0.007},{"x":170,"o":0.073,"b":0.025},{"x":171,"o":0.046,"b":0.016},{"x":172,"o":0.039,"b":0.014},{"x":173,"o":0.035,"b":0.013},{"x":174,"o":0.033,"b":0.012},{"x":175,"o":0.016,"b":0.006},{"x":176,"o":0.067,"b":0.023},{"x":177,"o":0.042,"b":0.015},{"x":178,"o":0.036,"b":0.013},{"x":179,"o":0.033,"b":0.012},{"x":180,"o":0.031,"b":0.011},
{"x":181,"o":0.001,"b":0.001},{"x":182,"o":0.038,"b":0.017},{"x":183,"o":0.017,"b":0.007},{"x":184,"o":0.013,"b":0.006},{"x":185,"o":0.011,"b":0.005},{"x":186,"o":0.01,"b":0.004},{"x":187,"o":0.016,"b":0.007},{"x":188,"o":0.118,"b":0.055},{"x":189,"o":0.078,"b":0.037},{"x":190,"o":0.067,"b":0.032},{"x":191,"o":0.061,"b":0.029},{"x":192,"o":0.057,"b":0.027},{"x":193,"o":0.021,"b":0.009},{"x":194,"o":0.081,"b":0.033},{"x":195,"o":0.053,"b":0.022},{"x":196,"o":0.045,"b":0.019},{"x":197,"o":0.041,"b":0.017},{"x":198,"o":0.038,"b":0.016},{"x":199,"o":0.017,"b":0.007},{"x":200,"o":0.067,"b":0.027},{"x":201,"o":0.042,"b":0.017},{"x":202,"o":0.036,"b":0.015},{"x":203,"o":0.033,"b":0.014},{"x":204,"o":0.031,"b":0.013},{"x":205,"o":0.014,"b":0.006},{"x":206,"o":0.06,"b":0.024},{"x":207,"o":0.037,"b":0.015},{"x":208,"o":0.032,"b":0.013},{"x":209,"o":0.029,"b":0.012},{"x":210,"o":0.027,"b":0.011},{"x":211,"o":0.012,"b":0.005},{"x":212,"o":0.057,"b":0.022},{"x":213,"o":0.034,"b":0.014},{"x":214,"o":0.029,"b":0.012},{"x":215,"o":0.02,"b":0.008},{"x":216,"o":0.013,"b":0.005}],
"s7":[{"x":1,"o":0,"b":0},{"x":2,"o":0.01,"b":0.01},{"x":3,"o":0.005,"b":0.005},{"x":4,"o":0.01,"b":0.01},{"x":5,"o":0.004,"b":0.004},{"x":6,"o":0.02,"b":0.02},{"x":7,"o":0.045,"b":0.045},{"x":8,"o":0.03,"b":0.03},{"x":9,"o":0.055,"b":0.055},{"x":10,"o":0.035,"b":0.035},{"x":11,"o":0.004,"b":0.004},{"x":12,"o":0.015,"b":0.015},{"x":13,"o":0.005,"b":0.005},{"x":14,"o":0.016,"b":0.016},{"x":15,"o":0.008,"b":0.008},{"x":16,"o":0.015,"b":0.015},{"x":17,"o":0.04,"b":0.04},{"x":18,"o":0.025,"b":0.025},{"x":19,"o":0.045,"b":0.045},{"x":20,"o":0.028,"b":0.028},{"x":21,"o":0.003,"b":0.003},{"x":22,"o":0.012,"b":0.012},{"x":23,"o":0.005,"b":0.005},{"x":24,"o":0.014,"b":0.014},{"x":25,"o":0.008,"b":0.008},
{"x":26,"o":0.02,"b":0.005},{"x":27,"o":0.175,"b":0.05},{"x":28,"o":0.07,"b":0.02},{"x":29,"o":0.195,"b":0.055},{"x":30,"o":0.08,"b":0.022},{"x":31,"o":0.15,"b":0.04},{"x":32,"o":0.38,"b":0.104},{"x":33,"o":0.23,"b":0.065},{"x":34,"o":0.425,"b":0.127},{"x":35,"o":0.25,"b":0.07},{"x":36,"o":0.07,"b":0.02},{"x":37,"o":0.235,"b":0.058},{"x":38,"o":0.115,"b":0.03},{"x":39,"o":0.26,"b":0.065},{"x":40,"o":0.12,"b":0.032},{"x":41,"o":0.16,"b":0.045},{"x":42,"o":0.335,"b":0.098},{"x":43,"o":0.21,"b":0.062},{"x":44,"o":0.38,"b":0.125},{"x":45,"o":0.22,"b":0.068},{"x":46,"o":0.08,"b":0.022},{"x":47,"o":0.215,"b":0.06},{"x":48,"o":0.12,"b":0.033},{"x":49,"o":0.255,"b":0.07},{"x":50,"o":0.13,"b":0.036},
{"x":51,"o":0.02,"b":0.005},{"x":52,"o":0.04,"b":0.015},{"x":53,"o":0.005,"b":0.002},{"x":54,"o":0.035,"b":0.013},{"x":55,"o":0.005,"b":0.002},{"x":56,"o":0.02,"b":0.008},{"x":57,"o":0.115,"b":0.058},{"x":58,"o":0.055,"b":0.027},{"x":59,"o":0.135,"b":0.068},{"x":60,"o":0.06,"b":0.03},{"x":61,"o":0.005,"b":0.002},{"x":62,"o":0.055,"b":0.025},{"x":63,"o":0.02,"b":0.009},{"x":64,"o":0.06,"b":0.028},{"x":65,"o":0.025,"b":0.011},{"x":66,"o":0.03,"b":0.013},{"x":67,"o":0.1,"b":0.045},{"x":68,"o":0.05,"b":0.022},{"x":69,"o":0.115,"b":0.052},{"x":70,"o":0.055,"b":0.025},{"x":71,"o":0.005,"b":0.002},{"x":72,"o":0.045,"b":0.02},{"x":73,"o":0.02,"b":0.009},{"x":74,"o":0.05,"b":0.022},{"x":75,"o":0.02,"b":0.009},
{"x":76,"o":0.025,"b":0.008},{"x":77,"o":0.17,"b":0.04},{"x":78,"o":0.075,"b":0.02},{"x":79,"o":0.185,"b":0.045},{"x":80,"o":0.075,"b":0.02},{"x":81,"o":0.15,"b":0.04},{"x":82,"o":0.37,"b":0.092},{"x":83,"o":0.225,"b":0.058},{"x":84,"o":0.405,"b":0.11},{"x":85,"o":0.23,"b":0.062},{"x":86,"o":0.075,"b":0.02},{"x":87,"o":0.225,"b":0.052},{"x":88,"o":0.105,"b":0.027},{"x":89,"o":0.25,"b":0.058},{"x":90,"o":0.11,"b":0.029},{"x":91,"o":0.15,"b":0.04},{"x":92,"o":0.33,"b":0.095},{"x":93,"o":0.2,"b":0.058},{"x":94,"o":0.365,"b":0.104},{"x":95,"o":0.2,"b":0.058},{"x":96,"o":0.05,"b":0.015},{"x":97,"o":0.21,"b":0.052},{"x":98,"o":0.11,"b":0.028},{"x":99,"o":0.245,"b":0.058},{"x":100,"o":0.12,"b":0.03},
{"x":101,"o":0.005,"b":0.002},{"x":102,"o":0.03,"b":0.012},{"x":103,"o":0.003,"b":0.001},{"x":104,"o":0.035,"b":0.014},{"x":105,"o":0.005,"b":0.002},{"x":106,"o":0.02,"b":0.008},{"x":107,"o":0.12,"b":0.06},{"x":108,"o":0.055,"b":0.027},{"x":109,"o":0.14,"b":0.07},{"x":110,"o":0.06,"b":0.03},{"x":111,"o":0.005,"b":0.002},{"x":112,"o":0.05,"b":0.023},{"x":113,"o":0.02,"b":0.009},{"x":114,"o":0.065,"b":0.03},{"x":115,"o":0.02,"b":0.009},{"x":116,"o":0.03,"b":0.013},{"x":117,"o":0.105,"b":0.047},{"x":118,"o":0.05,"b":0.022},{"x":119,"o":0.12,"b":0.054},{"x":120,"o":0.055,"b":0.025},{"x":121,"o":0.005,"b":0.002},{"x":122,"o":0.05,"b":0.022},{"x":123,"o":0.02,"b":0.009},{"x":124,"o":0.06,"b":0.027},{"x":125,"o":0.015,"b":0.007}],
"s8":[{"x":1,"o":0,"b":0},{"x":2,"o":0.012,"b":0.012},{"x":3,"o":0.007,"b":0.007},{"x":4,"o":0.005,"b":0.005},{"x":5,"o":0.012,"b":0.012},{"x":6,"o":0.047,"b":0.047},{"x":7,"o":0.03,"b":0.03},{"x":8,"o":0.027,"b":0.027},{"x":9,"o":0.005,"b":0.005},{"x":10,"o":0.04,"b":0.04},{"x":11,"o":0.022,"b":0.022},{"x":12,"o":0.018,"b":0.018},{"x":13,"o":0.005,"b":0.005},{"x":14,"o":0.037,"b":0.037},{"x":15,"o":0.02,"b":0.02},{"x":16,"o":0.015,"b":0.015},
{"x":17,"o":0.04,"b":0.01},{"x":18,"o":0.19,"b":0.045},{"x":19,"o":0.13,"b":0.03},{"x":20,"o":0.11,"b":0.025},{"x":21,"o":0.155,"b":0.045},{"x":22,"o":0.38,"b":0.11},{"x":23,"o":0.285,"b":0.08},{"x":24,"o":0.26,"b":0.07},{"x":25,"o":0.125,"b":0.025},{"x":26,"o":0.355,"b":0.087},{"x":27,"o":0.26,"b":0.06},{"x":28,"o":0.23,"b":0.05},{"x":29,"o":0.115,"b":0.025},{"x":30,"o":0.34,"b":0.08},{"x":31,"o":0.25,"b":0.05},{"x":32,"o":0.22,"b":0.045},
{"x":33,"o":0.01,"b":0.005},{"x":34,"o":0.13,"b":0.04},{"x":35,"o":0.08,"b":0.02},{"x":36,"o":0.065,"b":0.018},{"x":37,"o":0.1,"b":0.035},{"x":38,"o":0.28,"b":0.095},{"x":39,"o":0.2,"b":0.065},{"x":40,"o":0.18,"b":0.058},{"x":41,"o":0.075,"b":0.02},{"x":42,"o":0.255,"b":0.075},{"x":43,"o":0.175,"b":0.048},{"x":44,"o":0.155,"b":0.04},{"x":45,"o":0.07,"b":0.015},{"x":46,"o":0.245,"b":0.07},{"x":47,"o":0.165,"b":0.042},{"x":48,"o":0.145,"b":0.035},
{"x":49,"o":0.005,"b":0.005},{"x":50,"o":0.105,"b":0.035},{"x":51,"o":0.06,"b":0.02},{"x":52,"o":0.05,"b":0.015},{"x":53,"o":0.08,"b":0.03},{"x":54,"o":0.24,"b":0.09},{"x":55,"o":0.17,"b":0.06},{"x":56,"o":0.15,"b":0.055},{"x":57,"o":0.06,"b":0.018},{"x":58,"o":0.22,"b":0.07},{"x":59,"o":0.145,"b":0.045},{"x":60,"o":0.125,"b":0.038},{"x":61,"o":0.05,"b":0.012},{"x":62,"o":0.21,"b":0.065},{"x":63,"o":0.14,"b":0.035},{"x":64,"o":0.12,"b":0.03}]
},
"spacing":3.67,
"vconcat":[
{"spacing":24,"hconcat":[
{"width":370,"height":276,"title":{"text":"Scale 1"},"data":{"name":"s1"},
"encoding":{"x":{"field":"x","type":"quantitative","title":null,"scale":{"domain":[1,125],"range":[62,355]},"axis":{"values":[1,12,23,34,45,56,67,78,89,100,111,122],"format":"d","offset":-50,"labelFont":"Liberation Serif","labelFontSize":20}}},
"layer":[
{"mark":{"type":"line","color":"#4472C4"},"encoding":{"y":{"field":"b","type":"quantitative","title":null,"scale":{"domain":[0,0.12],"range":[226,58.3],"nice":false},"axis":{"values":[0,0.02,0.04,0.06,0.08,0.1,0.12],"format":".2f","offset":-45,"labelFont":"Liberation Serif","labelFontSize":20}}}},
{"mark":{"type":"line","color":"#ED7D31"},"encoding":{"y":{"field":"o","type":"quantitative","title":null,"scale":{"domain":[0,0.12],"range":[226,58.3],"nice":false},"axis":{"values":[0,0.02,0.04,0.06,0.08,0.1,0.12],"format":".2f","offset":-45,"labelFont":"Liberation Serif","labelFontSize":20}}}}]},
{"width":358,"height":276,"title":{"text":"Scale 2","dx":4},"data":{"name":"s2"},
"encoding":{"x":{"field":"x","type":"quantitative","title":null,"scale":{"domain":[1,216],"range":[60,355]},"axis":{"values":[1,19,37,55,73,91,109,127,145,163,181,199],"format":"d","offset":-50,"labelFont":"Liberation Serif","labelFontSize":20}}},
"layer":[
{"mark":{"type":"line","color":"#4472C4"},"encoding":{"y":{"field":"b","type":"quantitative","title":null,"scale":{"domain":[0,0.4],"range":[226,58.3],"nice":false},"axis":{"values":[0,0.05,0.1,0.15,0.2,0.25,0.3,0.35,0.4],"format":".2f","offset":-42,"labelFont":"Liberation Serif","labelFontSize":20}}}},
{"mark":{"type":"line","color":"#ED7D31"},"encoding":{"y":{"field":"o","type":"quantitative","title":null,"scale":{"domain":[0,0.4],"range":[226,58.3],"nice":false},"axis":{"values":[0,0.05,0.1,0.15,0.2,0.25,0.3,0.35,0.4],"format":".2f","offset":-42,"labelFont":"Liberation Serif","labelFontSize":20}}}}]}
]},
{"spacing":24,"hconcat":[
{"width":370,"height":276,"title":{"text":"Scale 3"},"data":{"name":"s3"},
"encoding":{"x":{"field":"x","type":"quantitative","title":null,"scale":{"domain":[1,125],"range":[62,355]},"axis":{"values":[1,12,23,34,45,56,67,78,89,100,111,122],"format":"d","offset":-50,"labelFont":"Liberation Serif","labelFontSize":20}}},
"layer":[
{"mark":{"type":"line","color":"#4472C4"},"encoding":{"y":{"field":"b","type":"quantitative","title":null,"scale":{"domain":[0,0.15],"range":[226,58.3],"nice":false},"axis":{"values":[0,0.05,0.1,0.15],"format":".2f","offset":-45,"labelFont":"Liberation Serif","labelFontSize":20}}}},
{"mark":{"type":"line","color":"#ED7D31"},"encoding":{"y":{"field":"o","type":"quantitative","title":null,"scale":{"domain":[0,0.15],"range":[226,58.3],"nice":false},"axis":{"values":[0,0.05,0.1,0.15],"format":".2f","offset":-45,"labelFont":"Liberation Serif","labelFontSize":20}}}}]},
{"width":358,"height":276,"title":{"text":"Scale 4","dx":4},"data":{"name":"s4"},
"encoding":{"x":{"field":"x","type":"quantitative","title":null,"scale":{"domain":[1,125],"range":[60.5,354.5]},"axis":{"values":[1,12,23,34,45,56,67,78,89,100,111,122],"format":"d","offset":-50,"labelFont":"Liberation Serif","labelFontSize":20}}},
"layer":[
{"mark":{"type":"line","color":"#4472C4"},"encoding":{"y":{"field":"b","type":"quantitative","title":null,"scale":{"domain":[0,0.4],"range":[226,58.3],"nice":false},"axis":{"values":[0,0.05,0.1,0.15,0.2,0.25,0.3,0.35,0.4],"format":".2f","offset":-42,"labelFont":"Liberation Serif","labelFontSize":20}}}},
{"mark":{"type":"line","color":"#ED7D31"},"encoding":{"y":{"field":"o","type":"quantitative","title":null,"scale":{"domain":[0,0.4],"range":[226,58.3],"nice":false},"axis":{"values":[0,0.05,0.1,0.15,0.2,0.25,0.3,0.35,0.4],"format":".2f","offset":-42,"labelFont":"Liberation Serif","labelFontSize":20}}}}]}
]},
{"spacing":24,"hconcat":[
{"width":370,"height":276,"title":{"text":"Scale 5"},"data":{"name":"s5"},
"encoding":{"x":{"field":"x","type":"quantitative","title":null,"scale":{"domain":[1,216],"range":[62,355]},"axis":{"values":[1,19,37,55,73,91,109,127,145,163,181,199],"format":"d","offset":-50,"labelFont":"Liberation Serif","labelFontSize":20}}},
"layer":[
{"mark":{"type":"line","color":"#4472C4"},"encoding":{"y":{"field":"b","type":"quantitative","title":null,"scale":{"domain":[0,0.4],"range":[226,58],"nice":false},"axis":{"values":[0,0.05,0.1,0.15,0.2,0.25,0.3,0.35,0.4],"format":".2f","offset":-45,"labelFont":"Liberation Serif","labelFontSize":20}}}},
{"mark":{"type":"line","color":"#ED7D31"},"encoding":{"y":{"field":"o","type":"quantitative","title":null,"scale":{"domain":[0,0.4],"range":[226,58],"nice":false},"axis":{"values":[0,0.05,0.1,0.15,0.2,0.25,0.3,0.35,0.4],"format":".2f","offset":-45,"labelFont":"Liberation Serif","labelFontSize":20}}}}]},
{"width":358,"height":276,"title":{"text":"Scale 6","dx":4},"data":{"name":"s6"},
"encoding":{"x":{"field":"x","type":"quantitative","title":null,"scale":{"domain":[1,216],"range":[60,355]},"axis":{"values":[1,19,37,55,73,91,109,127,145,163,181,199],"format":"d","offset":-50,"labelFont":"Liberation Serif","labelFontSize":20}}},
"layer":[
{"mark":{"type":"line","color":"#4472C4"},"encoding":{"y":{"field":"b","type":"quantitative","title":null,"scale":{"domain":[0,0.4],"range":[226,58.5],"nice":false},"axis":{"values":[0,0.1,0.2,0.3,0.4],"format":".2f","offset":-42,"labelFont":"Liberation Serif","labelFontSize":20}}}},
{"mark":{"type":"line","color":"#ED7D31"},"encoding":{"y":{"field":"o","type":"quantitative","title":null,"scale":{"domain":[0,0.4],"range":[226,58.5],"nice":false},"axis":{"values":[0,0.1,0.2,0.3,0.4],"format":".2f","offset":-42,"labelFont":"Liberation Serif","labelFontSize":20}}}}]}
]},
{"spacing":24,"hconcat":[
{"width":370,"height":276,"title":{"text":"Scale 7"},"data":{"name":"s7"},
"encoding":{"x":{"field":"x","type":"quantitative","title":null,"scale":{"domain":[1,125],"range":[62,356]},"axis":{"values":[1,12,23,34,45,56,67,78,89,100,111,122],"format":"d","offset":-50,"labelFont":"Liberation Serif","labelFontSize":20}}},
"layer":[
{"mark":{"type":"line","color":"#4472C4"},"encoding":{"y":{"field":"b","type":"quantitative","title":null,"scale":{"domain":[0,0.45],"range":[227,58.7],"nice":false},"axis":{"values":[0,0.05,0.1,0.15,0.2,0.25,0.3,0.35,0.4,0.45],"format":".2f","offset":-45,"labelFont":"Liberation Serif","labelFontSize":20}}}},
{"mark":{"type":"line","color":"#ED7D31"},"encoding":{"y":{"field":"o","type":"quantitative","title":null,"scale":{"domain":[0,0.45],"range":[227,58.7],"nice":false},"axis":{"values":[0,0.05,0.1,0.15,0.2,0.25,0.3,0.35,0.4,0.45],"format":".2f","offset":-45,"labelFont":"Liberation Serif","labelFontSize":20}}}}]},
{"width":358,"height":276,"title":{"text":"Scale 8","dx":4},"data":{"name":"s8"},
"encoding":{"x":{"field":"x","type":"quantitative","title":null,"scale":{"domain":[1,64],"range":[62,346]},"axis":{"values":[1,8,15,22,29,36,43,50,57,64],"format":"d","offset":-40,"labelAngle":0,"labelPadding":11,"labelFont":"Liberation Serif","labelFontSize":20}}},
"layer":[
{"mark":{"type":"line","color":"#4472C4"},"encoding":{"y":{"field":"b","type":"quantitative","title":null,"scale":{"domain":[0,0.4],"range":[236,58.7],"nice":false},"axis":{"values":[0,0.05,0.1,0.15,0.2,0.25,0.3,0.35,0.4],"format":".2f","offset":-42,"labelFont":"Liberation Serif","labelFontSize":20}}}},
{"mark":{"type":"line","color":"#ED7D31"},"encoding":{"y":{"field":"o","type":"quantitative","title":null,"scale":{"domain":[0,0.4],"range":[236,58.7],"nice":false},"axis":{"values":[0,0.05,0.1,0.15,0.2,0.25,0.3,0.35,0.4],"format":".2f","offset":-42,"labelFont":"Liberation Serif","labelFontSize":20}}}}]}
]}
]
}
